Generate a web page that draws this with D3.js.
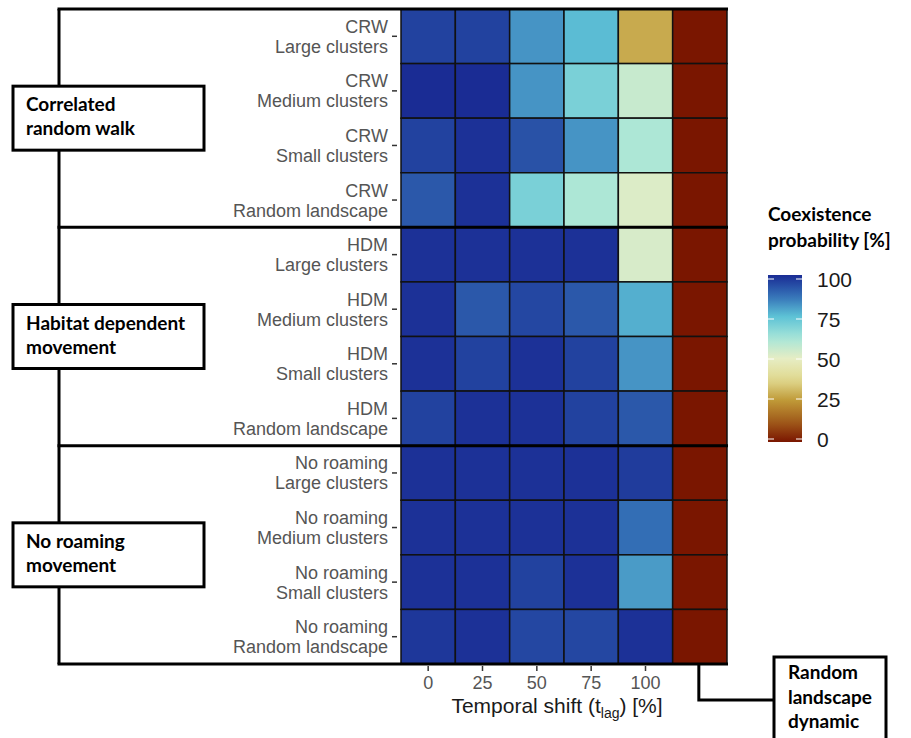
<!DOCTYPE html>
<html>
<head>
<meta charset="utf-8">
<script src="https://d3js.org/d3.v7.min.js"></script>
<style>
  body { margin: 0; background: #fff; }
  svg { display: block; font-family: "Liberation Sans", Arial, sans-serif; }
  .lab { font-family: Lato, "Open Sans", sans-serif; font-weight: bold; font-size: 19px; fill: #000; }
  .yaxis text, .xaxis text { font-family: "Liberation Sans", Arial, sans-serif; font-size: 18px; fill: #555; }
  .yaxis line, .xaxis line { stroke: #333; stroke-width: 1.5; }
  .leg text { font-family: "Liberation Sans", Arial, sans-serif; }
</style>
</head>
<body>
<script>
// ---- data ----
var shiftKeys = ["0", "25", "50", "75", "100", "dyn"];      // columns, last one = random landscape dynamic
var shiftLabels = ["0", "25", "50", "75", "100"];
var movements = ["CRW", "HDM", "No roaming"];
var landscapes = ["Large clusters", "Medium clusters", "Small clusters", "Random landscape"];
var groupTitles = [["Correlated", "random walk"], ["Habitat dependent", "movement"], ["No roaming", "movement"]];
var legendTicks = [0, 25, 50, 75, 100];

// coexistence probability [%], one row per movement x landscape, columns = shiftKeys
var crw = [
  [96, 96, 82, 76, 28, 0],
  [100, 100, 82, 70, 56, 0],
  [96, 99, 93, 82, 61, 0],
  [92, 99, 70, 61, 52, 0]
];
var hdm = [
  [99, 99, 99, 99, 53, 0],
  [99, 92, 95, 92, 78, 0],
  [99, 96, 99, 96, 82, 0],
  [96, 99, 99, 96, 92, 0]
];
var noRoaming = [
  [99, 99, 99, 99, 97, 0],
  [99, 99, 99, 99, 88, 0],
  [99, 99, 96, 99, 81, 0],
  [98, 99, 95, 95, 99, 0]
];

var W = 911, H = 738;
var svg = d3.select("body").append("svg").attr("width", W).attr("height", H);

// flatten into cells
var rows = [];
var cells = [];
[crw, hdm, noRoaming].forEach(function(block, g) {
  block.forEach(function(vals, l) {
    var id = movements[g] + "|" + landscapes[l];
    rows.push({ id: id, move: movements[g], land: landscapes[l], group: g });
    vals.forEach(function(v, c) {
      cells.push({ row: id, col: shiftKeys[c], value: v });
    });
  });
});

var x = d3.scaleBand().domain(shiftKeys).range([401, 727]);
var y = d3.scaleBand().domain(rows.map(function(d) { return d.id; })).range([9, 664]);

var color = d3.scaleLinear()
  .domain([0, 12, 25, 37, 50, 62, 75, 87, 100])
  .range(["#7a1600", "#a05a1a", "#c09a38", "#e0d88e", "#e6edc4", "#a8e6d8", "#5ec3d6", "#3573b8", "#1a2c94"]);

// heat cells
svg.append("g").selectAll("rect")
  .data(cells)
  .enter()
  .append("rect")
  .attr("x", function(d) { return x(d.col); })
  .attr("y", function(d) { return y(d.row); })
  .attr("width", x.bandwidth())
  .attr("height", y.bandwidth())
  .attr("fill", function(d) { return color(d.value); })
  .attr("stroke", "#111")
  .attr("stroke-width", 1.5);

// y axis with two-line labels
var yAxis = svg.append("g").attr("class", "yaxis")
  .attr("transform", "translate(397,0)")
  .call(d3.axisLeft(y).tickSize(5).tickPadding(4).tickFormat(""));
yAxis.attr("font-family", null).attr("font-size", null);
yAxis.select(".domain").remove();
yAxis.selectAll(".tick").each(function(id) {
  var r = rows.find(function(d) { return d.id === id; });
  var t = d3.select(this).select("text").attr("dy", null);
  t.append("tspan").attr("x", -9).attr("y", -3.5).text(r.move);
  t.append("tspan").attr("x", -9).attr("y", 16.5).text(r.land);
});

// x axis
var xAxis = svg.append("g").attr("class", "xaxis")
  .attr("transform", "translate(0,666)")
  .call(d3.axisBottom(x).tickValues(shiftLabels).tickSize(5).tickPadding(5));
xAxis.attr("font-family", null).attr("font-size", null);
xAxis.select(".domain").remove();

var xt = svg.append("text")
  .attr("x", 557).attr("y", 713)
  .attr("text-anchor", "middle")
  .attr("font-size", 21).attr("fill", "#1a1a1a");
xt.append("tspan").text("Temporal shift (t");
xt.append("tspan").attr("font-size", 14).attr("dy", 5).text("lag");
xt.append("tspan").attr("dy", -5).text(") [%]");

// group frame lines
var x0 = 59, x1 = 728;
var frame = svg.append("g").attr("stroke", "#000").attr("stroke-width", 3).attr("fill", "none");
var bounds = [9, y(rows[4].id), y(rows[8].id), 664];
frame.selectAll("line.h")
  .data(bounds)
  .enter()
  .append("line")
  .attr("x1", x0 - 1.5).attr("x2", x1)
  .attr("y1", function(d) { return d; }).attr("y2", function(d) { return d; });
frame.append("line").attr("x1", x0).attr("x2", x0).attr("y1", 9).attr("y2", 664);

// group label boxes
groupTitles.forEach(function(lines, g) {
  var mid = (bounds[g] + bounds[g + 1]) / 2;
  svg.append("rect")
    .attr("x", 13).attr("y", mid - 32).attr("width", 191).attr("height", 64)
    .attr("fill", "#fff").attr("stroke", "#000").attr("stroke-width", 3);
  var t = svg.append("text").attr("class", "lab");
  t.append("tspan").attr("x", 26).attr("y", mid - 7).text(lines[0]);
  t.append("tspan").attr("x", 26).attr("y", mid + 17).text(lines[1]);
});

// random landscape dynamic callout
var cx = x("dyn") + x.bandwidth() / 2 - 1;
svg.append("path")
  .attr("d", "M" + cx + ",664V700H774")
  .attr("fill", "none").attr("stroke", "#000").attr("stroke-width", 3);
svg.append("rect")
  .attr("x", 774).attr("y", 657).attr("width", 112).attr("height", 100)
  .attr("fill", "#fff").attr("stroke", "#000").attr("stroke-width", 3);
var rt = svg.append("text").attr("class", "lab");
["Random", "landscape", "dynamic"].forEach(function(s, i) {
  rt.append("tspan").attr("x", 788).attr("y", 679 + i * 24.5).text(s);
});

// legend
var lt = svg.append("text").attr("class", "lab");
lt.append("tspan").attr("x", 768).attr("y", 221).text("Coexistence");
lt.append("tspan").attr("x", 768).attr("y", 247).text("probability [%]");

var ly = d3.scaleLinear().domain([0, 100]).range([439, 279]);
var grad = svg.append("defs").append("linearGradient")
  .attr("id", "cbar").attr("x1", 0).attr("x2", 0).attr("y1", 1).attr("y2", 0);
grad.selectAll("stop")
  .data(d3.range(0, 101, 5))
  .enter()
  .append("stop")
  .attr("offset", function(d) { return d + "%"; })
  .attr("stop-color", function(d) { return color(d); });
svg.append("rect")
  .attr("x", 768).attr("y", 275).attr("width", 34).attr("height", 167)
  .attr("fill", "url(#cbar)");

var lg = svg.append("g").attr("class", "leg");
lg.selectAll("line.l")
  .data(legendTicks).enter().append("line")
  .attr("x1", 768).attr("x2", 774)
  .attr("y1", function(d) { return ly(d); }).attr("y2", function(d) { return ly(d); })
  .attr("stroke", "#fff").attr("stroke-width", 1);
lg.selectAll("line.r")
  .data(legendTicks).enter().append("line")
  .attr("x1", 796).attr("x2", 802)
  .attr("y1", function(d) { return ly(d); }).attr("y2", function(d) { return ly(d); })
  .attr("stroke", "#fff").attr("stroke-width", 1);
lg.selectAll("text")
  .data(legendTicks).enter().append("text")
  .attr("x", 817)
  .attr("y", function(d) { return ly(d); })
  .attr("dy", "0.36em")
  .attr("font-size", 21).attr("fill", "#1a1a1a")
  .text(function(d) { return d; });
</script>
</body>
</html>
